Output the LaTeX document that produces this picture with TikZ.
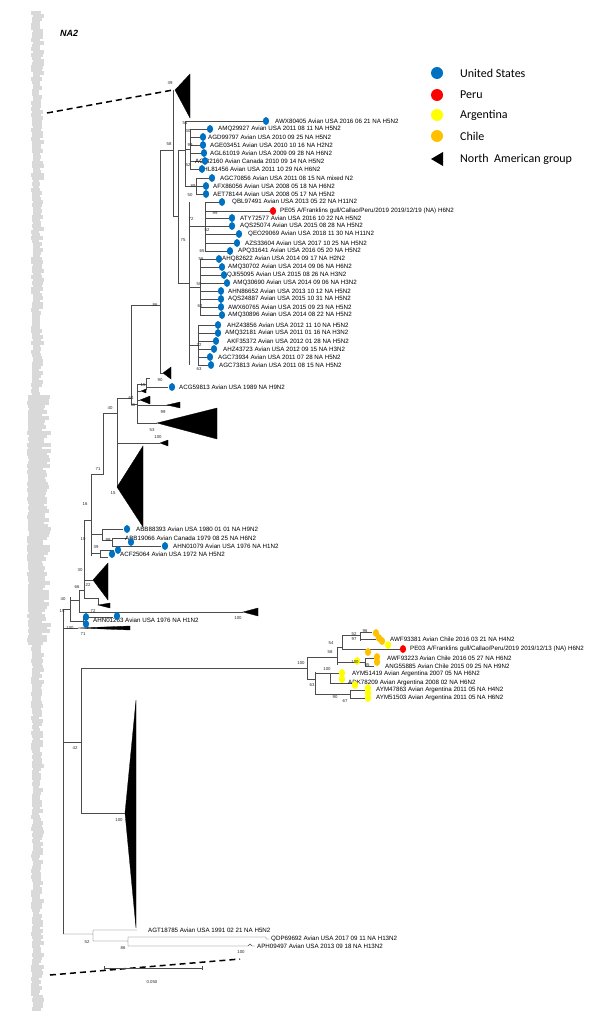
\documentclass[tikz,border=0pt]{standalone}
\usepackage{fontspec}
\setmainfont{Liberation Sans}
\newfontfamily\legfont{Carlito}
\definecolor{usblue}{RGB}{0,112,192}
\definecolor{perured}{RGB}{255,0,0}
\definecolor{argyellow}{RGB}{255,255,0}
\definecolor{chlorange}{RGB}{255,192,0}
\newcommand{\taxfont}{\fontsize{6.2}{7}\selectfont}
\newcommand{\bsfont}{\fontsize{4.3}{5}\selectfont}
\newcommand{\tip}[3]{\fill[#1] (#2,#3) ellipse [x radius=3.1pt, y radius=3.9pt];}

\begin{document}
\begin{tikzpicture}[
    x = 1pt, y = -1pt,
    br/.style = {draw=black!70, line width=0.45pt},
    bs/.style = {font=\bsfont, inner sep=0pt, text=black!85},
    lf/.style = {font=\taxfont, anchor=west, inner sep=0pt},
    lg/.style = {font=\legfont\fontsize{12}{14}\selectfont, anchor=west, inner sep=0pt},
    clade/.style = {fill=black, draw=black, line width=0.3pt},
    link/.style = {line width=1.5pt, dash pattern=on 6pt off 4pt}]

\useasboundingbox (0,0) rectangle (600,1014);

% collapsed taxa strip on the left
\pgfmathsetseed{7}
\foreach \k in {0,...,332} {
    \pgfmathsetmacro{\yy}{13+3*\k}
    \pgfmathsetmacro{\xa}{(\yy>395 && \yy<645) ? 27+2*rnd : 31+2*rnd}
    \pgfmathsetmacro{\xb}{(\yy>395 && \yy<645) ? 42+9*rnd : 39+5*rnd}
    \draw[gray!30, line width=3.1pt] (\xa,\yy) -- (\xb,\yy);
}

\node[font=\bfseries\itshape\fontsize{9}{10}\selectfont, anchor=west, inner sep=0pt] (title) at (60,33) {NA2};

\draw[link] (47,113) -- (173,90);
\draw[link] (50,975) -- (240,959);

% upper north american clade
\draw[br] (173,90) -- (173,216) -- (178,216)
          (160,150) -- (173,150)
          (160,150) -- (160,373) -- (163,373)
          (131,305) -- (160,305)
          (131,305) -- (131,404) -- (137,404)
          (117,398) -- (131,398)
          (178,150) -- (178,283) -- (189,283)
          (178,150) -- (185,150)
          (185,121) -- (185,186) -- (196,186)
          (185,149) -- (190,149)
          (190,129) -- (190,169)
          (196,178) -- (196,194)
          (189,202) -- (189,365)
          (189,226) -- (205,226)
          (205,202) -- (205,251)
          (189,287) -- (200,287)
          (200,259) -- (200,315)
          (189,345) -- (198,345)
          (198,325) -- (198,365);
\fill[clade] (175,90) -- (190,74) -- (190,118) -- cycle;
\fill[clade] (163,373) -- (171,367) -- (171,379) -- cycle;

\foreach \y/\fx/\dx/\tx/\lab in {
    121/185/266/275/{AWX80405 Avian USA 2016 06 21 NA H5N2},
    129/190/210/218/{AMQ29927 Avian USA 2011 08 11 NA H5N2},
    137/190/203/208/{AGD99797 Avian USA 2010 09 25 NA H5N2},
    145/190/203/210/{AGE03451 Avian USA 2010 10 16 NA H2N2},
    153/190/204/210/{AGL61019 Avian USA 2009 09 28 NA H6N2},
    161/190/205/195/{AGI82160 Avian Canada 2010 09 14 NA H5N2},
    169/190/202/199/{AHL81456 Avian USA 2011 10 29 NA H6N2},
    178/196/212/220/{AGC70856 Avian USA 2011 08 15 NA mixed N2},
    186/196/206/213/{AFX86056 Avian USA 2008 05 18 NA H6N2},
    194/196/206/213/{AET78144 Avian USA 2008 05 17 NA H5N2},
    202/205/222/232/{QBL97491 Avian USA 2013 05 22 NA H11N2},
    218/205/232/240/{ATY72577 Avian USA 2016 10 22 NA H5N2},
    226/205/232/240/{AQS25074 Avian USA 2015 08 28 NA H5N2},
    234/205/239/248/{QEO29069 Avian USA 2018 11 30 NA H11N2},
    243/205/237/245/{AZS33604 Avian USA 2017 10 25 NA H5N2},
    251/205/230/238/{APQ31641 Avian USA 2016 05 20 NA H5N2},
    259/200/219/222/{AHQ82622 Avian USA 2014 09 17 NA H2N2},
    267/200/222/228/{AMQ30702 Avian USA 2014 09 06 NA H6N2},
    275/200/224/227/{QJI55095 Avian USA 2015 08 26 NA H3N2},
    283/200/227/233/{AMQ30690 Avian USA 2014 09 06 NA H3N2},
    291/200/221/228/{AHN86652 Avian USA 2013 10 12 NA H5N2},
    299/200/221/228/{AQS24887 Avian USA 2015 10 31 NA H5N2},
    307/200/221/228/{AWX60765 Avian USA 2015 09 23 NA H5N2},
    315/200/222/228/{AMQ30896 Avian USA 2014 08 22 NA H5N2},
    325/198/218/227/{AHZ43856 Avian USA 2012 11 10 NA H5N2},
    333/198/218/225/{AMQ32181 Avian USA 2011 01 16 NA H3N2},
    341/198/216/227/{AKF35372 Avian USA 2012 01 28 NA H5N2},
    349/198/214/223/{AHZ43723 Avian USA 2012 09 15 NA H3N2},
    357/198/210/218/{AGC73934 Avian USA 2011 07 28 NA H5N2},
    365/198/211/219/{AGC73813 Avian USA 2011 08 15 NA H5N2}} {
    \draw[br] (\fx,\y) -- ({\dx-3},\y);
    \node[lf] (tx\y) at (\tx,\y) {\lab};
    \tip{usblue}{\dx}{\y}
}
\draw[br] (205,211) -- (270,211);
\node[lf] (pe05) at (280,211) {PE05 A/Franklins gull/Callao/Peru/2019 2019/12/19 (NA) H6N2};
\tip{perured}{273}{211}

\path (170,83) node[bs] (b1) {39}
      (169,144) node[bs] (b2) {58}
      (185,123) node[bs] (b3) {54}
      (188,131) node[bs] (b4) {30}
      (190,145) node[bs] (b5) {99}
      (188,165) node[bs] (b6) {52}
      (193,186) node[bs] (b7) {89}
      (190,195) node[bs] (b8) {50}
      (183,240) node[bs] (b9) {75}
      (215,213) node[bs] (b10) {99}
      (191,219) node[bs] (b11) {72}
      (207,230) node[bs] (b12) {52}
      (202,251) node[bs] (b13) {65}
      (201,259) node[bs] (b14) {56}
      (199,284) node[bs] (b15) {50}
      (200,306) node[bs] (b16) {62}
      (199,345) node[bs] (b17) {22}
      (199,369) node[bs] (b18) {63}
      (155,305) node[bs] (b19) {86}
      (160,380) node[bs] (b20) {90}
      (131,398) node[bs] (b21) {64};

% middle clades
\draw[br] (137,384) -- (137,423)
          (137,384) -- (146,384) -- (146,378) -- (150,378)
          (146,384) -- (146,390)
          (150,387) -- (168,387)
          (146,387) -- (150,387)
          (137,391) -- (141,391)
          (137,400) -- (140,400)
          (137,405) -- (169,405)
          (137,423) -- (157,423)
          (117,398) -- (117,487)
          (117,443) -- (160,443)
          (103,413) -- (117,413)
          (103,413) -- (103,474) -- (91,474);
\fill[clade] (141,391) -- (146,389) -- (146,393) -- cycle;
\fill[clade] (140,400) -- (150,396) -- (150,404) -- cycle;
\fill[clade] (167,405) -- (180,402) -- (180,408) -- cycle;
\fill[clade] (157,423) -- (217,408) -- (217,439) -- cycle;
\fill[clade] (160,443) -- (168,440) -- (168,446) -- cycle;
\fill[clade] (117,487) -- (143,446) -- (143,527) -- cycle;
\node[lf] (acg) at (179,387) {ACG59813 Avian USA 1989 NA H9N2};
\tip{usblue}{172}{387}

\path (143,385) node[bs] (b22) {15}
      (133,405) node[bs] (b23) {11}
      (163,412) node[bs] (b24) {99}
      (152,430) node[bs] (b25) {53}
      (158,437) node[bs] (b26) {100}
      (110,408) node[bs] (b27) {40}
      (113,493) node[bs] (b28) {15}
      (98,469) node[bs] (b29) {71}
      (85,504) node[bs] (b30) {16};

% old american lineages
\draw[br] (91,474) -- (91,556)
          (91,534) -- (102,534)
          (102,529) -- (102,540)
          (102,529) -- (123,529)
          (102,540) -- (112,540)
          (112,538) -- (112,546)
          (112,538) -- (127,538)
          (112,546) -- (161,546)
          (91,553) -- (100,553)
          (100,550) -- (100,557)
          (100,550) -- (114,550)
          (100,557) -- (108,557)
          (84,520) -- (91,520)
          (84,520) -- (84,598)
          (84,580) -- (93,580)
          (84,598) -- (98,598) -- (98,605)
          (79,590) -- (84,590)
          (79,590) -- (79,612) -- (243,612)
          (70,600) -- (79,600)
          (70,597) -- (70,621) -- (83,621)
          (83,617) -- (83,625)
          (83,617) -- (113,617)
          (63,609) -- (70,609)
          (63,609) -- (63,934)
          (63,628) -- (78,628);
\fill[clade] (93,580) -- (108,563) -- (108,600) -- cycle;
\fill[clade] (98,605) -- (110,603) -- (110,608) -- cycle;
\fill[clade] (243,612) -- (258,608) -- (258,616) -- cycle;
\fill[clade] (78,628) -- (130,626) -- (130,630) -- cycle;

\node[lf] (abb1) at (136,529) {ABB88393 Avian USA 1980 01 01 NA H9N2};
\node[lf] (abb2) at (125,538) {ABB19066 Avian Canada 1979 08 25 NA H6N2};
\node[lf] (ahn1) at (173,546) {AHN01079 Avian USA 1976 NA H1N2};
\node[lf] (acf) at (120,554) {ACF25064 Avian USA 1972 NA H5N2};
\node[lf] (ahn2) at (93,620) {AHN01263 Avian USA 1976 NA H1N2};
\tip{usblue}{127}{529}
\tip{usblue}{131}{542}
\tip{usblue}{165}{546}
\tip{usblue}{118}{550}
\tip{usblue}{112}{554}
\tip{usblue}{86}{617}
\tip{usblue}{86}{624}
\tip{usblue}{117}{616}

\path (83,539) node[bs] (b31) {10}
      (108,540) node[bs] (b32) {99}
      (96,547) node[bs] (b33) {39}
      (80,570) node[bs] (b34) {30}
      (88,585) node[bs] (b35) {22}
      (77,587) node[bs] (b36) {66}
      (63,599) node[bs] (b37) {40}
      (62,611) node[bs] (b38) {15}
      (93,611) node[bs] (b39) {72}
      (238,618) node[bs] (b40) {100}
      (70,628) node[bs] (b41) {100}
      (83,634) node[bs] (b42) {71};

% south american clade
\draw[br] (63,742) -- (81,742)
          (81,668) -- (81,813) -- (125,813)
          (81,668) -- (307,668)
          (307,657) -- (307,679)
          (307,657) -- (337,657)
          (337,647) -- (337,665)
          (337,647) -- (342,647)
          (342,635) -- (342,649)
          (342,635) -- (360,635)
          (360,632) -- (360,641)
          (360,632) -- (372,632)
          (360,639) -- (376,639)
          (342,649) -- (400,649)
          (337,662) -- (365,662)
          (365,658) -- (365,666)
          (365,658) -- (374,658)
          (365,666) -- (374,666)
          (307,679) -- (315,679)
          (315,672) -- (315,694)
          (315,673) -- (330,673)
          (330,673) -- (330,683)
          (330,673) -- (339,673)
          (330,683) -- (352,683)
          (315,694) -- (350,694)
          (350,690) -- (350,698)
          (350,690) -- (365,690)
          (350,698) -- (365,698);
\fill[clade] (125,813) -- (136,700) -- (136,928) -- cycle;

\node[lf] (awf1) at (390,639) {AWF93381 Avian Chile 2016 03 21 NA H4N2};
\node[lf] (pe03) at (410,649) {PE03 A/Franklins gull/Callao/Peru/2019 2019/12/13 (NA) H6N2};
\node[lf] (awf2) at (387,658) {AWF93223 Avian Chile 2016 05 27 NA H6N2};
\node[lf] (ang) at (385,666) {ANG55885 Avian Chile 2015 09 25 NA H9N2};
\node[lf] (aym1) at (352,674) {AYM51419 Avian Argentina 2007 05 NA H6N2};
\node[lf] (adk) at (348,683) {ADK78209 Avian Argentina 2008 02 NA H6N2};
\node[lf] (aym2) at (376,690) {AYM47863 Avian Argentina 2011 05 NA H4N2};
\node[lf] (aym3) at (376,698) {AYM51503 Avian Argentina 2011 05 NA H6N2};
\tip{chlorange}{376}{633}
\tip{chlorange}{379}{638}
\tip{chlorange}{382}{641}
\tip{argyellow}{388}{645}
\tip{perured}{403}{649}
\tip{chlorange}{368}{652}
\tip{chlorange}{377}{657}
\tip{chlorange}{377}{662}
\tip{argyellow}{357}{661}
\tip{argyellow}{342}{673}
\tip{argyellow}{342}{679}
\tip{argyellow}{355}{685}
\tip{argyellow}{368}{688}
\tip{argyellow}{368}{693}
\tip{argyellow}{368}{698}

\path (301,663) node[bs] (b43) {100}
      (330,652) node[bs] (b44) {58}
      (331,643) node[bs] (b45) {54}
      (354,634) node[bs] (b46) {52}
      (354,639) node[bs] (b47) {97}
      (365,631) node[bs] (b48) {96}
      (355,662) node[bs] (b49) {100}
      (367,665) node[bs] (b50) {95}
      (327,669) node[bs] (b51) {100}
      (312,685) node[bs] (b52) {63}
      (335,697) node[bs] (b53) {90}
      (345,701) node[bs] (b54) {67}
      (75,748) node[bs] (b55) {42}
      (119,820) node[bs] (b56) {100};

% basal lineages
\draw[br] (63,934) -- (93,934)
          (93,930) -- (93,941)
          (93,930) -- (137,930)
          (93,941) -- (128,941)
          (128,937) -- (128,946)
          (128,937) -- (266,937) -- (266,939) -- (269,939)
          (128,946) -- (248,946) -- (250,944) -- (252,946) -- (255,946);
\node[lf] (agt) at (148,930) {AGT18785 Avian USA 1991 02 21 NA H5N2};
\node[lf] (qdp) at (271,939) {QDP69692 Avian USA 2017 09 11 NA H13N2};
\node[lf] (aph) at (257,946) {APH09497 Avian USA 2013 09 18 NA H13N2};
\path (87,942) node[bs] (b57) {52}
      (123,948) node[bs] (b58) {86}
      (241,952) node[bs] (b59) {100};

% scale bar
\draw[br] (104,966) -- (104,970) (104,968) -- (202,968) (202,966) -- (202,970);
\node[bs] (scale) at (152,982) {0.050};

% legend
\fill[usblue] (437,73) circle (6);
\fill[perured] (437,95) circle (6);
\fill[argyellow] (437,115) circle (6);
\fill[chlorange] (437,136) circle (6);
\fill[black] (431,159) -- (443,152) -- (443,166) -- cycle;
\node[lg] (l1) at (460,73) {United States};
\node[lg] (l2) at (460,95) {Peru};
\node[lg] (l3) at (460,115) {Argentina};
\node[lg] (l4) at (460,136) {Chile};
\node[lg] (l5) at (460,159) {North\ \ American group};
\end{tikzpicture}
\end{document}
